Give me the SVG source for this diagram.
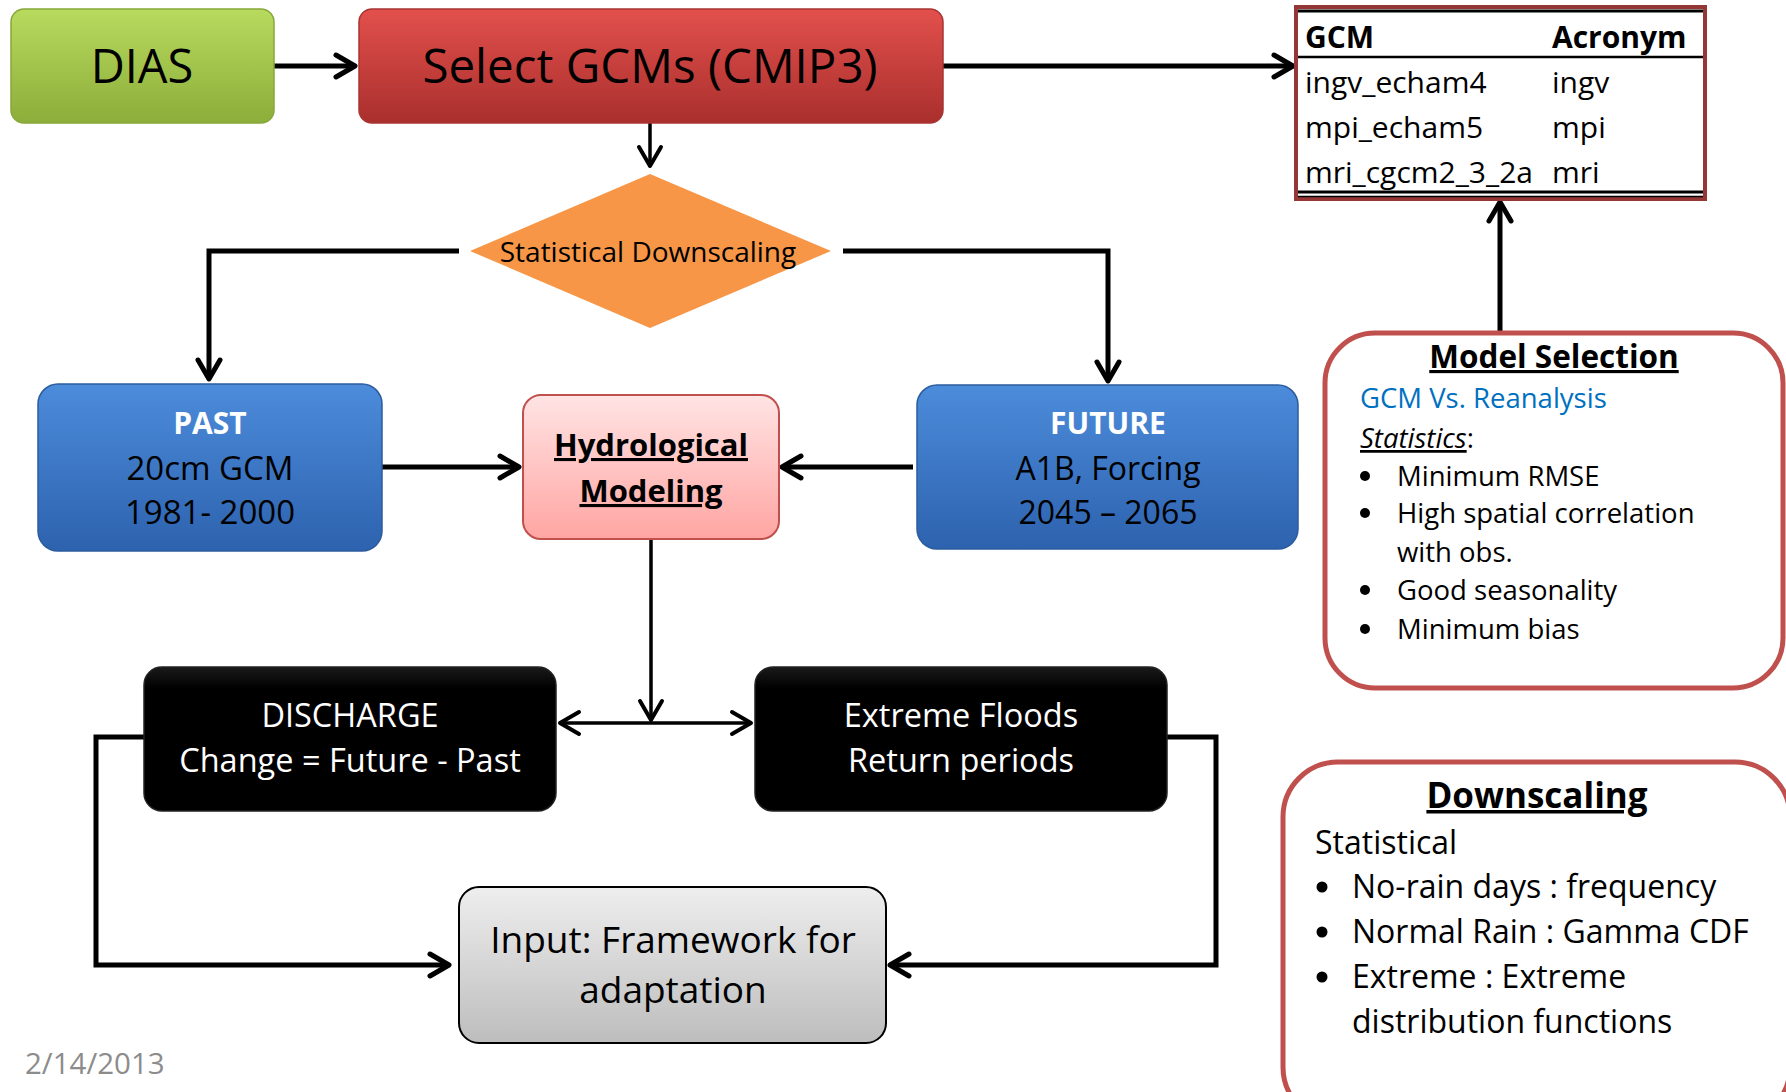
<svg xmlns="http://www.w3.org/2000/svg" width="1786" height="1092" viewBox="0 0 1786 1092">
<defs>
<style>
text{font-family:"Open Sans","Noto Sans","Liberation Sans",sans-serif;}
.c{text-anchor:middle;}
.w{fill:#ffffff;}
.b{font-weight:bold;}
.u{text-decoration:underline;}
.con{fill:none;stroke:#000;stroke-width:5;stroke-linejoin:miter;}
.thin{stroke-width:3.5;}
.panel{fill:#ffffff;stroke:#C0504D;stroke-width:5;}
</style>
<linearGradient id="gGreen" x1="0" y1="0" x2="0" y2="1"><stop offset="0" stop-color="#B8DA5E"/><stop offset="1" stop-color="#8CAE3A"/></linearGradient>
<linearGradient id="gRed" x1="0" y1="0" x2="0" y2="1"><stop offset="0" stop-color="#E2504C"/><stop offset="1" stop-color="#A92F2D"/></linearGradient>
<linearGradient id="gBlue" x1="0" y1="0" x2="0" y2="1"><stop offset="0" stop-color="#4C8CDB"/><stop offset="1" stop-color="#2D62AE"/></linearGradient>
<linearGradient id="gPink" x1="0" y1="0" x2="0" y2="1"><stop offset="0" stop-color="#FFE4E4"/><stop offset="1" stop-color="#FFA5A2"/></linearGradient>
<linearGradient id="gBlack" x1="0" y1="0" x2="0" y2="1"><stop offset="0" stop-color="#1a1a1a"/><stop offset="0.15" stop-color="#000"/><stop offset="1" stop-color="#000"/></linearGradient>
<linearGradient id="gGray" x1="0" y1="0" x2="0" y2="1"><stop offset="0" stop-color="#EEEEEE"/><stop offset="1" stop-color="#BDBDBD"/></linearGradient>
<marker id="arr" markerUnits="userSpaceOnUse" orient="auto" refX="0" refY="0" markerWidth="30" markerHeight="30" overflow="visible">
<path d="M -19 -11 L 0 0 L -19 11" fill="none" stroke="#000" stroke-width="5" stroke-linecap="round" stroke-linejoin="round"/>
</marker>
<marker id="arrT" markerUnits="userSpaceOnUse" orient="auto" refX="0" refY="0" markerWidth="30" markerHeight="30" overflow="visible">
<path d="M -19 -11 L 0 0 L -19 11" fill="none" stroke="#000" stroke-width="4" stroke-linecap="round" stroke-linejoin="round"/>
</marker>
</defs>
<rect width="1786" height="1092" fill="#ffffff"/>

<g id="connectors">
<path class="con" d="M 274 66 L 355 66" marker-end="url(#arr)"/>
<path class="con" d="M 943 66 L 1293 66" marker-end="url(#arr)"/>
<path class="con thin" d="M 650 123 L 650 166" marker-end="url(#arrT)"/>
<path class="con" d="M 459 251 L 209 251 L 209 379" marker-end="url(#arr)"/>
<path class="con" d="M 843 251 L 1108 251 L 1108 381" marker-end="url(#arr)"/>
<path class="con" d="M 382 467 L 519 467" marker-end="url(#arr)"/>
<path class="con" d="M 913 467 L 782 467" marker-end="url(#arr)"/>
<path class="con thin" d="M 651 539 L 651 720" marker-end="url(#arrT)"/>
<path class="con thin" d="M 651 723 L 560 723" marker-end="url(#arrT)"/>
<path class="con thin" d="M 651 723 L 751 723" marker-end="url(#arrT)"/>
<path class="con" d="M 144 737 L 96 737 L 96 965 L 449 965" marker-end="url(#arr)"/>
<path class="con" d="M 1167 737 L 1216 737 L 1216 965 L 890 965" marker-end="url(#arr)"/>
<path class="con" d="M 1500 331 L 1500 202" marker-end="url(#arr)"/>
</g>

<g id="dias">
<rect x="11" y="9" width="263" height="114" rx="13" fill="url(#gGreen)" stroke="#86A83A" stroke-width="1.5"/>
<text x="142" y="83" class="c" font-size="47">DIAS</text>
</g>

<g id="select-gcms">
<rect x="359" y="9" width="584" height="114" rx="13" fill="url(#gRed)" stroke="#A83533" stroke-width="1.5"/>
<text x="650" y="83" class="c" font-size="47.5">Select GCMs (CMIP3)</text>
</g>

<g id="statistical-downscaling">
<polygon points="650,174 831,251 650,328 470,251" fill="#F79646"/>
<text x="648" y="262" class="c" font-size="28">Statistical Downscaling</text>
</g>

<g id="gcm-table">
<rect x="1296" y="7" width="409" height="192" fill="#ffffff" stroke="#953735" stroke-width="4"/>
<line x1="1298" y1="11" x2="1703" y2="11" stroke="#000" stroke-width="3"/>
<line x1="1298" y1="57" x2="1703" y2="57" stroke="#000" stroke-width="2.5"/>
<line x1="1298" y1="192" x2="1703" y2="192" stroke="#000" stroke-width="3"/>
<line x1="1298" y1="196.5" x2="1703" y2="196.5" stroke="#000" stroke-width="1.5"/>
<text x="1305" y="48" font-size="30" class="b">GCM</text>
<text x="1552" y="48" font-size="30" class="b">Acronym</text>
<text x="1305" y="93" font-size="30">ingv_echam4</text>
<text x="1552" y="93" font-size="30">ingv</text>
<text x="1305" y="138" font-size="30">mpi_echam5</text>
<text x="1552" y="138" font-size="30">mpi</text>
<text x="1305" y="183" font-size="30">mri_cgcm2_3_2a</text>
<text x="1552" y="183" font-size="30">mri</text>
</g>

<g id="past">
<rect x="38" y="384" width="344" height="167" rx="20" fill="url(#gBlue)" stroke="#2B5C9E" stroke-width="1.5"/>
<text x="210" y="434" class="c w b" font-size="30">PAST</text>
<text x="210" y="480" class="c" font-size="33">20cm GCM</text>
<text x="210" y="524" class="c" font-size="33">1981- 2000</text>
</g>

<g id="hydrological-modeling">
<rect x="523" y="395" width="256" height="144" rx="18" fill="url(#gPink)" stroke="#C0504D" stroke-width="2"/>
<text x="651" y="456" class="c b u" font-size="31">Hydrological</text>
<text x="651" y="502" class="c b u" font-size="31">Modeling</text>
</g>

<g id="future">
<rect x="917" y="385" width="381" height="164" rx="20" fill="url(#gBlue)" stroke="#2B5C9E" stroke-width="1.5"/>
<text x="1108" y="434" class="c w b" font-size="30">FUTURE</text>
<text x="1108" y="480" class="c" font-size="32">A1B, Forcing</text>
<text x="1108" y="524" class="c" font-size="32">2045 – 2065</text>
</g>

<g id="discharge">
<rect x="144" y="667" width="412" height="144" rx="18" fill="url(#gBlack)" stroke="#222" stroke-width="1.5"/>
<text x="350" y="727" class="c w" font-size="32.5">DISCHARGE</text>
<text x="350" y="772" class="c w" font-size="32.5">Change = Future - Past</text>
</g>

<g id="extreme-floods">
<rect x="755" y="667" width="412" height="144" rx="18" fill="url(#gBlack)" stroke="#222" stroke-width="1.5"/>
<text x="961" y="727" class="c w" font-size="32.5">Extreme Floods</text>
<text x="961" y="772" class="c w" font-size="32.5">Return periods</text>
</g>

<g id="input-framework">
<rect x="459" y="887" width="427" height="156" rx="20" fill="url(#gGray)" stroke="#000" stroke-width="2"/>
<text x="673" y="953" class="c" font-size="37">Input: Framework for</text>
<text x="673" y="1003" class="c" font-size="37">adaptation</text>
</g>

<g id="model-selection">
<rect class="panel" x="1325" y="333" width="458" height="355" rx="50"/>
<text x="1554" y="368" class="c b u" font-size="31.5">Model Selection</text>
<text x="1360" y="408" font-size="27.5" fill="#0070C0">GCM Vs. Reanalysis</text>
<text x="1360" y="448" font-size="27.5"><tspan font-style="italic" text-decoration="underline">Statistics</tspan>:</text>
<circle cx="1365" cy="476" r="5"/>
<text x="1397" y="486" font-size="27.5">Minimum RMSE</text>
<circle cx="1365" cy="513" r="5"/>
<text x="1397" y="523" font-size="27.5">High spatial correlation</text>
<text x="1397" y="562" font-size="27.5">with obs.</text>
<circle cx="1365" cy="590" r="5"/>
<text x="1397" y="600" font-size="27.5">Good seasonality</text>
<circle cx="1365" cy="629" r="5"/>
<text x="1397" y="639" font-size="27.5">Minimum bias</text>
</g>

<g id="downscaling">
<rect class="panel" x="1283" y="762" width="507" height="360" rx="55"/>
<text x="1537" y="808" class="c b u" font-size="35">Downscaling</text>
<text x="1315" y="854" font-size="32">Statistical</text>
<circle cx="1322" cy="887" r="5.5"/>
<text x="1352" y="898" font-size="32">No-rain days : frequency</text>
<circle cx="1322" cy="932" r="5.5"/>
<text x="1352" y="943" font-size="32">Normal Rain : Gamma CDF</text>
<circle cx="1322" cy="977" r="5.5"/>
<text x="1352" y="988" font-size="32">Extreme : Extreme</text>
<text x="1352" y="1033" font-size="32">distribution functions</text>
</g>

<g id="date">
<text x="25" y="1074" font-size="29.5" fill="#8C8C8C">2/14/2013</text>
</g>
</svg>
